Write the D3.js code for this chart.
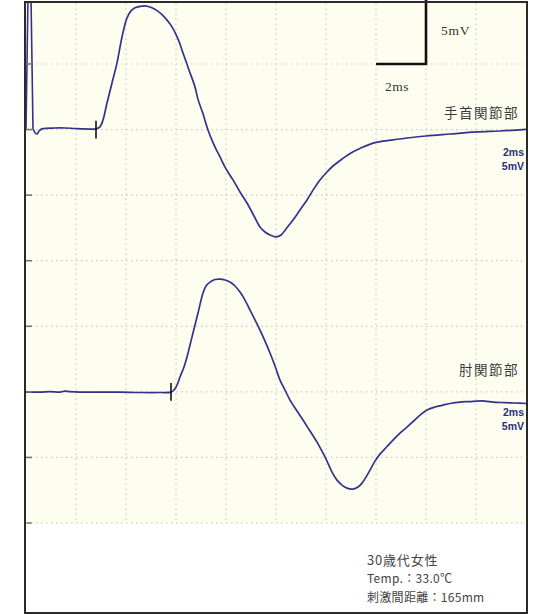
<!DOCTYPE html>
<html>
<head>
<meta charset="utf-8">
<script src="https://cdn.jsdelivr.net/npm/d3@7"></script>
<style>
  html, body { margin: 0; padding: 0; background: #ffffff; }
  svg { display: block; }
</style>
</head>
<body>
<svg id="chart" width="534" height="614"></svg>
<script>
// Sweep: 10 divisions of 2 ms, 8 divisions of 5 mV
const timeTicks = [0, 2, 4, 6, 8, 10, 12, 14, 16, 18, 20];
const voltTicks = [0, 5, 10, 15, 20, 25, 30, 35, 40];

// Trace baselines (mV position on the sweep)
const siteNames = ["手首関節部", "肘関節部"];
const siteBaselines = [30, 10];
const onsetLatency = [2.8, 5.8]; // ms, onset markers

// Wrist stimulation: [time ms, amplitude mV]
const wristTime = [0, 0.08, 0.2, 0.28, 0.36, 0.44, 0.52, 0.64, 1.16, 1.56, 1.96, 2.36, 2.8, 2.96, 3.08, 3.24, 3.44, 3.64, 3.84, 4.04, 4.2, 4.36, 4.56, 4.76, 5.04, 5.36, 5.6, 5.84, 6.08, 6.28, 6.52, 6.76, 6.88, 7.08, 7.28, 7.52, 7.76, 8.0, 8.28, 8.56, 8.84, 9.12, 9.36, 9.56, 9.76, 10.0, 10.2, 10.4, 10.68, 10.96, 11.24, 11.48, 11.76, 12.0, 12.28, 12.68, 13.0, 13.36, 14.0, 14.96, 16.0, 16.96, 18.0, 18.96, 20.0];
const wristAmp = [0.05, 10.1, 10.1, 0.05, -0.26, -0.34, -0.11, 0.05, 0.12, 0.12, 0.08, 0.05, 0.05, 0.2, 0.73, 2.03, 3.55, 5.08, 7.06, 8.51, 9.05, 9.28, 9.39, 9.43, 9.28, 8.9, 8.44, 7.83, 6.91, 5.84, 4.54, 3.25, 2.3, 1.2, -0.03, -1.17, -2.09, -3.0, -3.84, -4.76, -5.6, -6.59, -7.43, -7.81, -8.04, -8.19, -8.04, -7.58, -6.9, -6.13, -5.37, -4.62, -3.84, -3.31, -2.78, -2.2, -1.78, -1.44, -0.98, -0.72, -0.49, -0.34, -0.18, -0.11, 0.01];

// Elbow stimulation: [time ms, amplitude mV]
const elbowTime = [0, 0.56, 0.96, 1.36, 1.56, 1.76, 2.16, 2.96, 3.76, 4.56, 5.36, 5.8, 5.92, 6.04, 6.16, 6.32, 6.44, 6.56, 6.68, 6.88, 7.08, 7.2, 7.36, 7.56, 7.76, 7.96, 8.16, 8.36, 8.56, 8.76, 8.96, 9.16, 9.36, 9.56, 9.76, 9.96, 10.16, 10.36, 10.56, 10.84, 11.08, 11.36, 11.64, 11.84, 12.04, 12.24, 12.44, 12.64, 12.84, 13.08, 13.28, 13.44, 13.6, 13.76, 13.96, 14.16, 14.44, 14.68, 14.96, 15.24, 15.48, 15.76, 16.04, 16.36, 16.68, 16.96, 17.36, 17.76, 18.04, 18.36, 18.68, 19.16, 19.56, 20.0];
const elbowAmp = [-0.02, -0.02, 0.02, -0.02, 0.06, 0.02, -0.02, -0.02, -0.02, -0.05, -0.05, -0.02, 0.14, 0.52, 1.13, 1.89, 2.65, 3.57, 4.49, 6.01, 7.54, 8.07, 8.37, 8.57, 8.6, 8.53, 8.37, 8.07, 7.61, 7.0, 6.24, 5.48, 4.71, 3.87, 2.96, 1.97, 0.9, 0.14, -0.63, -1.46, -2.15, -2.99, -3.83, -4.52, -5.28, -6.12, -6.73, -7.11, -7.34, -7.41, -7.26, -6.96, -6.5, -5.97, -5.28, -4.75, -4.17, -3.68, -3.14, -2.69, -2.27, -1.77, -1.39, -1.16, -1.01, -0.89, -0.78, -0.74, -0.70, -0.70, -0.78, -0.82, -0.85, -0.89];

// Calibration bar and per-trace gain labels
const calTime = 2;   // ms
const calVolt = 5;   // mV
const calLabels = ["2ms", "5mV"];
const notes = ["30歳代女性", "Temp.：33.0℃", "刺激間距離：165mm"];

const svg = d3.select("#chart");
const left = 26, right = 526, gridTop = -1.6, gridBottom = 523;

const x = d3.scaleLinear().domain([0, 20]).range([left, right]);
const y = d3.scaleLinear().domain([40, 0]).range([gridTop, gridBottom]);

// frame background
svg.append("rect").attr("x", 25).attr("y", 2).attr("width", 502).attr("height", 611)
  .attr("fill", "#ffffff");
svg.append("rect").attr("x", left).attr("y", 3).attr("width", right - left).attr("height", gridBottom - 3)
  .attr("fill", "#fefef0");

svg.append("clipPath").attr("id", "plotclip")
  .append("rect").attr("x", left).attr("y", 3).attr("width", right - left).attr("height", gridBottom - 3);

const grid = svg.append("g").attr("clip-path", "url(#plotclip)");

const gridColor = "#cacac2";
// dotted grid
grid.selectAll("line.v").data(timeTicks.slice(1, -1)).join("line")
  .attr("class", "v")
  .attr("x1", d => x(d)).attr("x2", d => x(d))
  .attr("y1", y(40)).attr("y2", y(0))
  .attr("stroke", gridColor).attr("stroke-width", 1.2)
  .attr("stroke-dasharray", "1.5 3.5");
grid.selectAll("line.h").data(voltTicks.slice(0, -1)).join("line")
  .attr("class", "h")
  .attr("x1", left).attr("x2", right)
  .attr("y1", d => y(d)).attr("y2", d => y(d))
  .attr("stroke", gridColor).attr("stroke-width", 1.2)
  .attr("stroke-dasharray", "1.5 3.5");

// left edge division marks
svg.selectAll("line.tick").data(voltTicks.slice(0, -1)).join("line")
  .attr("class", "tick")
  .attr("x1", left).attr("x2", left + 6)
  .attr("y1", d => y(d)).attr("y2", d => y(d))
  .attr("stroke", "#777").attr("stroke-width", 1.6);

// waveforms: stimulus artefact drawn straight, response smoothed
const traces = [
  { t: wristTime, v: wristAmp },
  { t: elbowTime, v: elbowAmp }
];
traces.forEach((tr, i) => {
  const base = siteBaselines[i];
  const pts = tr.t.map((t, k) => [t, tr.v[k]]);
  const line = d3.line()
    .x(d => x(d[0]))
    .y(d => y(base + d[1]))
    .curve(d3.curveCatmullRom.alpha(0.5));
  const artefactEnd = i === 0 ? 4 : 0;
  if (artefactEnd > 0) {
    grid.append("path").datum(pts.slice(0, artefactEnd + 1))
      .attr("d", d3.line().x(d => x(d[0])).y(d => y(base + d[1])))
      .attr("fill", "none").attr("stroke", "#33338a").attr("stroke-width", 1.6);
  }
  grid.append("path").datum(pts.slice(artefactEnd))
    .attr("d", line)
    .attr("fill", "none")
    .attr("stroke", "#33338a")
    .attr("stroke-width", 1.7)
    .attr("stroke-linejoin", "round");

  // onset marker
  svg.append("line")
    .attr("x1", x(onsetLatency[i])).attr("x2", x(onsetLatency[i]))
    .attr("y1", y(base + 0.68)).attr("y2", y(base - 0.68))
    .attr("stroke", "#111").attr("stroke-width", 1.6);

  // site name
  svg.append("text")
    .attr("x", right - 7).attr("y", y(base) - 12 + (i === 0 ? 0 : -5))
    .attr("text-anchor", "end")
    .attr("font-family", "'Noto Sans CJK JP', sans-serif")
    .attr("font-size", 13.5)
    .attr("letter-spacing", 1.5)
    .attr("fill", "#3a3a3a")
    .text(siteNames[i]);

  // gain labels
  calLabels.forEach((lab, j) => {
    svg.append("text")
      .attr("x", right - 2).attr("y", y(base) + (i === 0 ? 26 : 24) + j * 14)
      .attr("text-anchor", "end")
      .attr("font-family", "'Liberation Sans', Arial, sans-serif")
      .attr("font-weight", "bold")
      .attr("font-size", 10.5)
      .attr("fill", "#2a2f7a")
      .text(lab);
  });
});

// calibration bar
const calX = 16, calY = 40 - calVolt;
svg.append("path")
  .attr("d", `M${x(calX)},${y(40)}V${y(calY)}H${x(calX - calTime)}`)
  .attr("fill", "none").attr("stroke", "#111").attr("stroke-width", 2.6);
svg.append("text")
  .attr("x", x(calX) + 15).attr("y", 35)
  .attr("font-family", "'Liberation Serif', serif")
  .attr("font-size", 13.5).attr("letter-spacing", 0.8)
  .attr("fill", "#333").text(calVolt + "mV");
svg.append("text")
  .attr("x", x(calX - calTime) + 9).attr("y", 91)
  .attr("font-family", "'Liberation Serif', serif")
  .attr("font-size", 13.5).attr("letter-spacing", 0.5)
  .attr("fill", "#333").text(calTime + "ms");

// bottom grid edge
svg.append("line")
  .attr("x1", left).attr("x2", right).attr("y1", y(0)).attr("y2", y(0))
  .attr("stroke", gridColor).attr("stroke-width", 1.2).attr("stroke-dasharray", "1.5 3.5");

// notes
notes.forEach((n, i) => {
  svg.append("text")
    .attr("x", 367).attr("y", [565, 583, 602][i])
    .attr("font-family", "'Noto Sans CJK JP', sans-serif")
    .attr("font-size", i === 0 ? 13 : 12)
    .attr("letter-spacing", i === 0 ? 0.8 : 0.3)
    .attr("fill", "#444")
    .text(n);
});

// outer frame
svg.append("rect").attr("x", 25).attr("y", 2).attr("width", 502).attr("height", 611)
  .attr("fill", "none").attr("stroke", "#2a2a2a").attr("stroke-width", 2);
</script>
</body>
</html>
